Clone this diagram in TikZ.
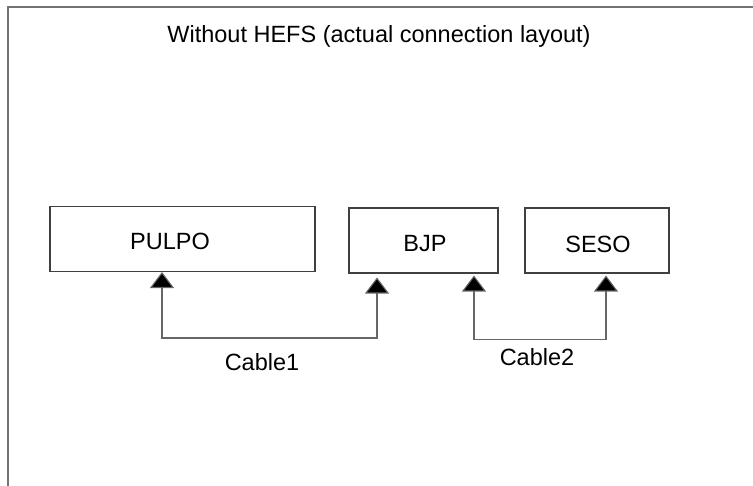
\documentclass[tikz,border=0pt]{standalone}
\usepackage{fontspec}
\setmainfont{Liberation Sans}
\usetikzlibrary{arrows.meta}
\begin{document}
\begin{tikzpicture}[x=1pt,y=-1pt,
  devbox/.style={draw=black!75, line width=1.1pt, minimum height=65pt, inner sep=0pt},
  lbl/.style={font=\fontsize{23.5}{26}\selectfont, inner sep=0pt},
  cable/.style={draw=black!60, line width=1.1pt, {Triangle[width=24pt,length=16pt,fill=black]}-{Triangle[width=24pt,length=16pt,fill=black]}},
  frame/.style={draw=black!55, line width=2pt}]
\useasboundingbox (0,0) rectangle (753,486);
\draw[frame] (8,486) -- (8,7) -- (753,7);
\node[lbl] (title) at (379,36) {Without HEFS (actual connection layout)};
\node[devbox, minimum width=265pt] (pulpo) at (182.5,239) {};
\node[lbl] (pulpot) at (170,241) {PULPO};
\node[devbox, minimum width=149pt] (bjp) at (423.5,240.5) {};
\node[lbl] (bjpt) at (425,244) {BJP};
\node[devbox, minimum width=144pt] (seso) at (597,240.5) {};
\node[lbl] (sesot) at (598,244) {SESO};
\node[lbl] (c1) at (262,362) {Cable1};
\node[lbl] (c2) at (537,357) {Cable2};
\draw[cable] ([xshift=-20.5pt]pulpo.south) -- ++(0,66) -| ([xshift=-46.5pt,yshift=-4pt]bjp.south);
\draw[cable] ([xshift=50.5pt,yshift=-2pt]bjp.south) -- ++(0,64) -| ([xshift=9pt,yshift=-2pt]seso.south);
\end{tikzpicture}
\end{document}
